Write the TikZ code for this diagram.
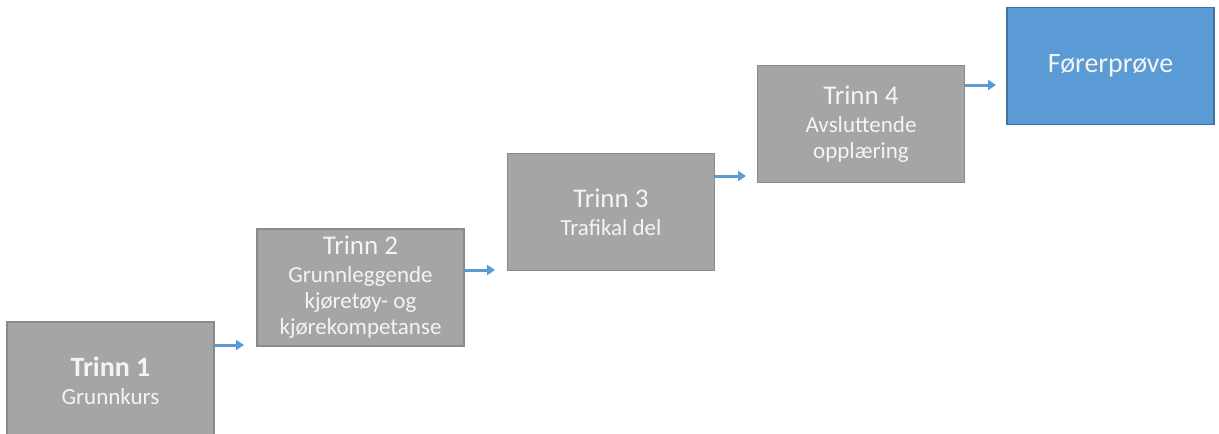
\documentclass[tikz,border=0pt]{standalone}
\usepackage{fontspec}
\setmainfont{Carlito}
\usetikzlibrary{arrows.meta}
\definecolor{boxgray}{HTML}{A5A5A5}
\definecolor{boxgrayedge}{HTML}{8A8A8A}
\definecolor{boxblue}{HTML}{5B9BD5}
\definecolor{boxblueedge}{HTML}{41719C}
\definecolor{arrowblue}{HTML}{5B9BD5}
\definecolor{boxtext}{HTML}{F4F4F4}
\tikzset{
  stepbox/.style={draw=boxgrayedge, fill=boxgray, line width=1.3pt,
    minimum width=207pt, minimum height=117pt, inner sep=0pt,
    text=boxtext, align=center, font=\fontsize{23}{26}\selectfont},
  finalbox/.style={stepbox, draw=boxblueedge, fill=boxblue},
  flow/.style={draw=arrowblue, line width=3pt, -{Triangle[length=8pt,width=10pt]}},
}
\newcommand{\ttl}[1]{{\fontsize{27}{30}\selectfont #1}}
\begin{document}
\begin{tikzpicture}[x=1pt,y=-1pt]
\clip (0,0) rectangle (1219,434);
\fill[white] (0,0) rectangle (1219,434);
\node[stepbox] (b1) at (110.5,380.5) {{\fontsize{28}{30}\selectfont\bfseries Trinn 1}\\[2pt]Grunnkurs};
\node[stepbox] (b2) at (360.5,287.5) {\ttl{Trinn 2}\\[2pt]Grunnleggende\\kjøretøy- og\\kjørekompetanse};
\node[stepbox] (b3) at (611,212) {\ttl{Trinn 3}\\[2pt]Trafikal del};
\node[stepbox] (b4) at (861,124) {\ttl{Trinn 4}\\[2pt]Avsluttende\\opplæring};
\node[finalbox] (b5) at (1110.5,66) {\fontsize{28}{32}\selectfont Førerprøve};
\coordinate (a1) at (244,345);
\coordinate (a2) at (495,270);
\coordinate (a3) at (746,176);
\coordinate (a4) at (996,85);
\draw[flow] (b1.east |- a1) -- (a1);
\draw[flow] (b2.east |- a2) -- (a2);
\draw[flow] (b3.east |- a3) -- (a3);
\draw[flow] (b4.east |- a4) -- (a4);
\end{tikzpicture}
\end{document}
